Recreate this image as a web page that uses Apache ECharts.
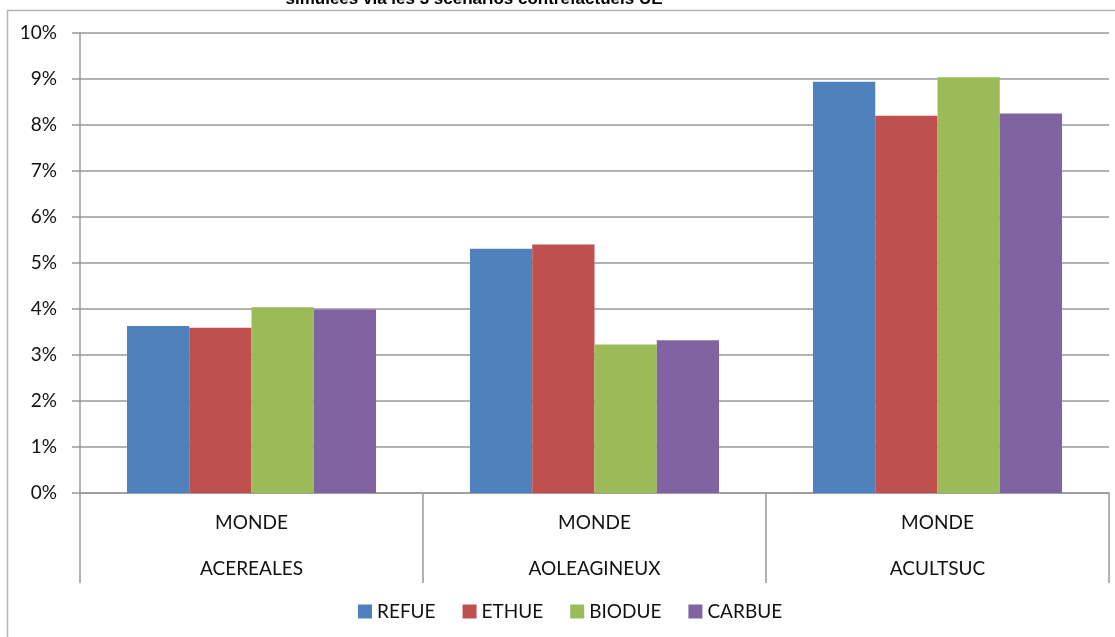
<!DOCTYPE html>
<html>
<head>
<meta charset="utf-8">
<script src="https://cdn.jsdelivr.net/npm/echarts@6/dist/echarts.min.js"></script>
<style>
html,body{margin:0;padding:0;background:#fff;}
#c{width:1115px;height:637px;}
</style>
</head>
<body>
<div id="c"></div>
<script>
const titleText = 'simulées via les 3 scénarios contrefactuels UE';
const regions = ['MONDE', 'MONDE', 'MONDE'];
const products = ['ACEREALES', 'AOLEAGINEUX', 'ACULTSUC'];
const seriesNames = ['REFUE', 'ETHUE', 'BIODUE', 'CARBUE'];
const refue = [3.63, 5.31, 8.94];
const ethue = [3.59, 5.40, 8.20];
const biodue = [4.04, 3.23, 9.04];
const carbue = [3.99, 3.32, 8.25];
const colors = ['#4F81BD', '#C0504D', '#9BBB59', '#8064A2'];
const yTicks = [0, 1, 2, 3, 4, 5, 6, 7, 8, 9, 10];

const values = [refue, ethue, biodue, carbue];
const FONT = 'Lato';
const chart = echarts.init(document.getElementById('c'), null, {renderer: 'canvas'});
chart.setOption({
  animation: false,
  textStyle: {fontFamily: FONT},
  graphic: [
    {type: 'rect', shape: {x: 7.5, y: 10.5, width: 1200, height: 700},
     style: {fill: 'none', stroke: '#b5b5b5', lineWidth: 1.5}, z: 0},
    {type: 'text', x: 474, y: -1,
     style: {text: titleText, font: 'bold 17px "Liberation Sans", Arial', fill: '#000',
             align: 'center', verticalAlign: 'middle'}, z: 10}
  ],
  grid: {left: 80, right: 6, top: 33, bottom: 144, containLabel: false},
  legend: {
    data: seriesNames, left: 353, top: 597, itemWidth: 14, itemHeight: 14,
    itemGap: 27, icon: 'rect',
    textStyle: {fontFamily: FONT, fontSize: 19, color: '#111', padding: [0, 0, 0, 0]}
  },
  xAxis: {
    type: 'category',
    data: products,
    axisLine: {lineStyle: {color: '#999', width: 1.5}},
    axisTick: {show: true, length: 90, alignWithLabel: false, lineStyle: {color: '#999', width: 1.5}},
    axisLabel: {
      margin: 7, fontFamily: FONT, fontSize: 19, color: '#111', lineHeight: 46,
      formatter: (v, i) => regions[i] + '\n' + v
    }
  },
  yAxis: {
    type: 'value', min: yTicks[0], max: yTicks[yTicks.length - 1], interval: 1,
    axisLine: {show: true, lineStyle: {color: '#999', width: 1.5}},
    axisTick: {show: true, length: 8, lineStyle: {color: '#999', width: 1.5}},
    splitLine: {show: true, lineStyle: {color: '#999', width: 1.5}},
    axisLabel: {margin: 23, fontFamily: FONT, fontSize: 19, color: '#111', formatter: '{value}%'}
  },
  series: seriesNames.map((n, i) => ({
    name: n, type: 'bar', data: values[i], barGap: '0%', barCategoryGap: '27.4%',
    itemStyle: {color: colors[i]}
  }))
});
</script>
</body>
</html>
